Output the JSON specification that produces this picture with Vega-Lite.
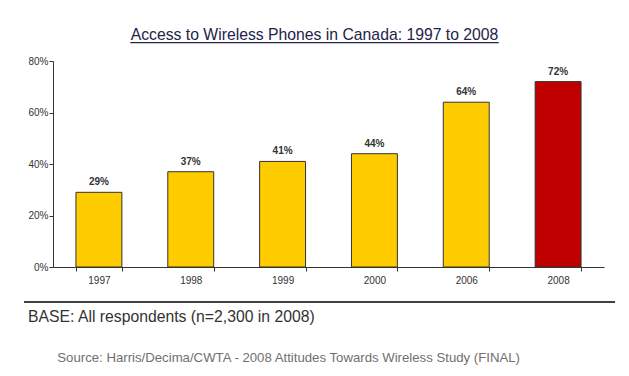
{
  "$schema": "https://vega.github.io/schema/vega-lite/v6.json",
  "padding": {"left": 23, "top": 26, "right": 10, "bottom": 5},
  "config": {
    "font": "Liberation Sans",
    "view": {"stroke": null},
    "axis": {
      "domainColor": "#333333",
      "tickColor": "#333333",
      "labelColor": "#333333",
      "labelFont": "Liberation Sans",
      "labelFontSize": 10,
      "grid": false,
      "title": null
    }
  },
  "title": {
    "text": "Access to Wireless Phones in Canada: 1997 to 2008",
    "subtitle": "__________________________________________",
    "fontSize": 15.75,
    "fontWeight": "normal",
    "color": "#23234a",
    "subtitleFont": "Liberation Sans",
    "subtitleFontSize": 15.75,
    "subtitleColor": "#23234a",
    "subtitlePadding": -15,
    "anchor": "middle",
    "frame": "bounds",
    "dx": -5,
    "offset": 12
  },
  "datasets": {
    "wireless": [
      {"year": "1997", "share": 0.29},
      {"year": "1998", "share": 0.37},
      {"year": "1999", "share": 0.41},
      {"year": "2000", "share": 0.44},
      {"year": "2006", "share": 0.64},
      {"year": "2008", "share": 0.72}
    ]
  },
  "columns": 1,
  "spacing": 16,
  "concat": [
    {
      "width": 551,
      "height": 206,
      "data": {"name": "wireless"},
      "encoding": {
        "x": {
          "field": "year",
          "type": "nominal",
          "sort": null,
          "scale": {"paddingInner": 0.5, "paddingOuter": 0.25},
          "axis": {"labelAngle": 0, "tickBand": "extent", "tickSize": 4, "labelPadding": 4}
        },
        "y": {
          "field": "share",
          "type": "quantitative",
          "scale": {"domain": [0, 0.8]},
          "axis": {"format": ".0%", "values": [0, 0.2, 0.4, 0.6, 0.8], "tickSize": 4, "labelPadding": 1, "minExtent": 29}
        }
      },
      "layer": [
        {
          "mark": {"type": "bar", "stroke": "#333333", "strokeWidth": 1},
          "encoding": {
            "color": {
              "field": "year",
              "type": "nominal",
              "scale": {
                "domain": ["1997", "1998", "1999", "2000", "2006", "2008"],
                "range": ["#FFCC00", "#FFCC00", "#FFCC00", "#FFCC00", "#FFCC00", "#C00000"]
              },
              "legend": null
            }
          }
        },
        {
          "mark": {"type": "text", "baseline": "bottom", "dy": -5, "fontWeight": "bold", "fontSize": 10, "color": "#333333"},
          "encoding": {"text": {"field": "share", "type": "quantitative", "format": ".0%"}}
        }
      ]
    },
    {
      "width": 562,
      "height": 1,
      "data": {"values": [{}]},
      "mark": {"type": "rule", "color": "#000000", "strokeWidth": 1.5},
      "encoding": {
        "x": {"datum": -29, "type": "quantitative", "scale": {"domain": [0, 562], "zero": false}, "axis": null},
        "x2": {"datum": 562},
        "y": {"datum": 0, "type": "quantitative", "scale": {"domain": [0, 1]}, "axis": null}
      },
      "title": {
        "text": "BASE: All respondents (n=2,300 in 2008)",
        "subtitle": "\u200b\u00a0\u00a0\u00a0\u00a0\u00a0\u00a0\u00a0\u00a0Source: Harris/Decima/CWTA - 2008 Attitudes Towards Wireless Study (FINAL)",
        "orient": "bottom",
        "anchor": "start",
        "frame": "group",
        "dx": -25,
        "fontSize": 15.75,
        "fontWeight": "normal",
        "color": "#333333",
        "subtitleFont": "Liberation Sans",
        "subtitleFontSize": 13.2,
        "subtitleColor": "#707070",
        "offset": 7,
        "subtitlePadding": 26
      }
    }
  ]
}
